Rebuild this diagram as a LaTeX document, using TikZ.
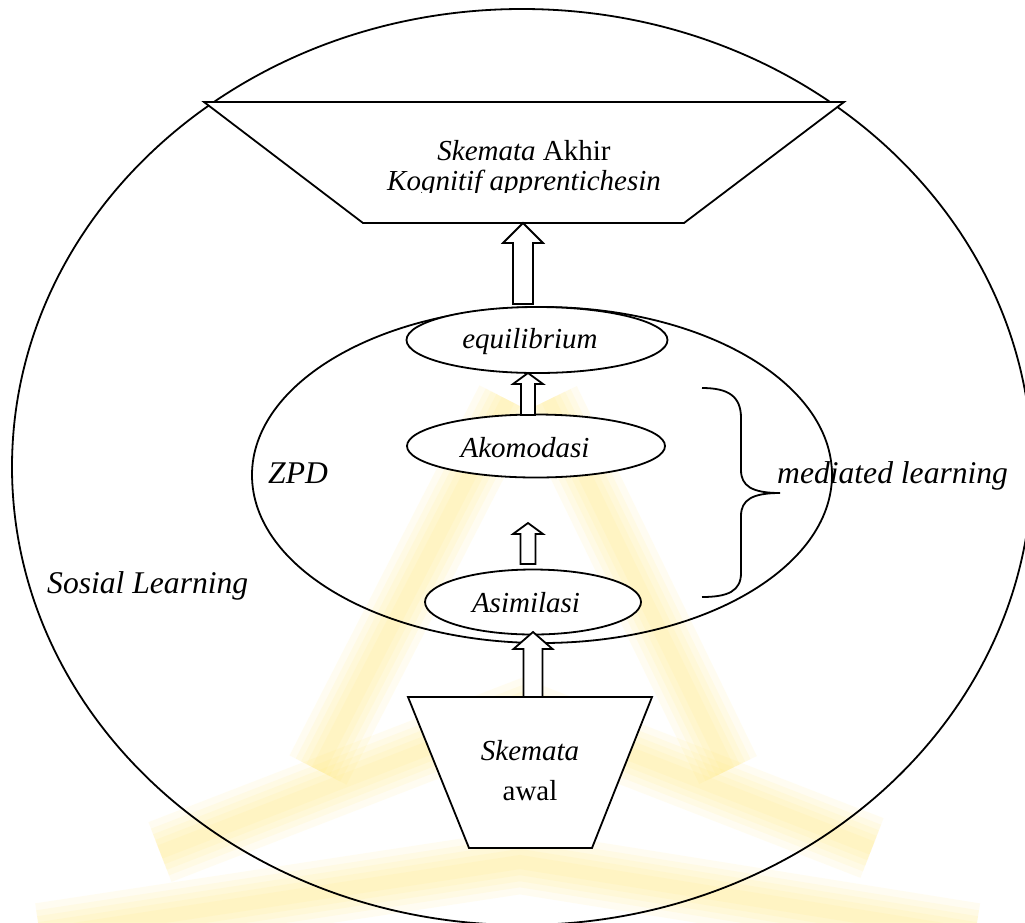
\documentclass[tikz,border=0pt]{standalone}
\usepackage{fontspec}
\setmainfont{Liberation Serif}
\usetikzlibrary{shapes.geometric}
\definecolor{wmark}{RGB}{255,232,100}
\tikzset{
  outline/.style={draw=black, line width=1.8pt},
  oval/.style={ellipse, outline, fill=white, inner sep=0pt},
  lbl/.style={inner sep=0pt, font=\fontsize{29}{30}\selectfont},
  side/.style={inner sep=0pt, font=\fontsize{31.6}{32}\selectfont},
  glow/.style={wmark, line cap=butt, line join=miter, opacity=0.09}
}
% upward block arrow: centre x, bottom y, tip y, shaft half-width, head base y, head half-width
\newcommand\blockup[6]{%
  \draw[blk] (#1-#4,#2) -- (#1-#4,#5) -- (#1-#6,#5) -- (#1,#3)
    -- (#1+#6,#5) -- (#1+#4,#5) -- (#1+#4,#2) -- cycle;}
% one soft stroke of the background emblem
\newcommand\emblemstroke[1]{%
  \foreach \w in {64,50,38,26,14}{\draw[glow, line width=\w pt] #1;}}
\tikzset{blk/.style={outline, fill=white, line join=miter}}
\begin{document}
\begin{tikzpicture}[x=1pt, y=-1pt]
\useasboundingbox (0,0) rectangle (1025,922);
\fill[white] (0,0) rectangle (1025,922);

% background emblem
\emblemstroke{(318,770) -- (508,400)}
\emblemstroke{(548,400) -- (728,770)}
\emblemstroke{(160,852) -- (522,712) -- (872,848)}
\emblemstroke{(40,935) -- (520,862) -- (975,935)}

% outer region and zone of proximal development
\node[ellipse, outline, minimum width=1020pt, minimum height=916pt, inner sep=0pt] (social) at (522,467) {};
\node[ellipse, outline, minimum width=580pt, minimum height=336pt, inner sep=0pt] (zpd) at (542,475) {};

% final schema (top trapezoid)
\coordinate (t1) at (204,102);
\coordinate (t2) at (844,102);
\coordinate (t3) at (684,223);
\coordinate (t4) at (363,223);
\draw[outline, fill=white, line join=miter] (t1) -- (t2) -- (t3) -- (t4) -- cycle;
\node[lbl, anchor=base] (akhir) at (524,160) {\textit{Skemata} Akhir};
\begin{scope}
  \clip (300,165) rectangle (760,192);
  \node[lbl, anchor=base] (kognitif) at (524,190) {\textit{Kognitif apprentichesin}};
\end{scope}

% initial schema (bottom trapezoid)
\coordinate (b1) at (408,697);
\coordinate (b2) at (652,697);
\coordinate (b3) at (592,848);
\coordinate (b4) at (469,848);
\draw[outline, fill=white, line join=miter] (b1) -- (b2) -- (b3) -- (b4) -- cycle;
\node[lbl, anchor=base] (awal1) at (530,760) {\textit{Skemata}};
\node[lbl, anchor=base] (awal2) at (530,800) {awal};

% stages
\node[oval, minimum width=261pt, minimum height=66pt] (eq) at (537,340) {};
\node[lbl, anchor=base] at (530,348) {\textit{equilibrium}};
\node[oval, minimum width=258pt, minimum height=63pt] (ako) at (536,446) {};
\node[lbl, anchor=base] at (525,457) {\textit{Akomodasi}};
\node[oval, minimum width=216pt, minimum height=65pt] (asi) at (533,602) {};
\node[lbl, anchor=base] at (526,612) {\textit{Asimilasi}};

% block arrows
\blockup{523}{304}{223}{10}{243}{20}
\blockup{528}{415}{373}{7}{384}{15}
\blockup{528}{564}{523}{7.5}{534}{15}
\blockup{533}{697}{632}{9.5}{649}{19.5}

% brace for mediated learning
\coordinate (brtop) at (702,388);
\coordinate (brtip) at (780,493);
\coordinate (brbot) at (702,597);
\draw[outline] (brtop) .. controls (728,388) and (741,396) .. (741,418)
  -- (741,470) .. controls (741,486) and (752,493) .. (brtip)
  .. controls (752,493) and (741,500) .. (741,516)
  -- (741,573) .. controls (741,591) and (728,597) .. (brbot);

% labels
\node[side, anchor=base west] (zpdl) at (268,483) {\textit{ZPD}};
\node[side, anchor=base west] (medl) at (777,483) {\textit{mediated learning}};
\node[side, anchor=base west] (socl) at (47,593) {\textit{Sosial Learning}};
\end{tikzpicture}
\end{document}
